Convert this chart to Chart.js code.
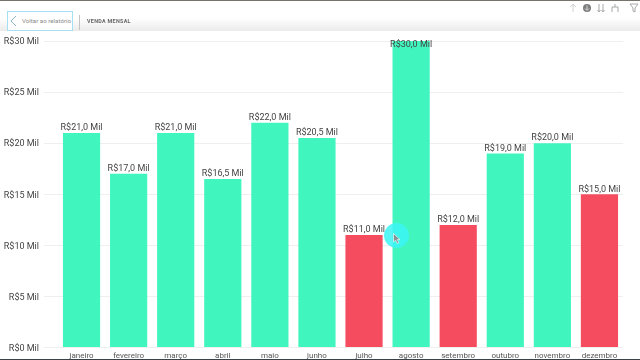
<!DOCTYPE html>
<html>
<head>
<meta charset="utf-8">
<script src="https://cdn.jsdelivr.net/npm/chart.js@4/dist/chart.umd.min.js"></script>
<style>
html, body { margin: 0; padding: 0; background: #fff; overflow: hidden; }
#wrap { position: relative; width: 640px; height: 360px; overflow: hidden; font-family: Roboto, sans-serif; }
#chartVendas { position: absolute; left: 0; top: 0; filter: blur(0.35px); }
.topline { position: absolute; left: 0; top: 0; width: 640px; height: 1px; background: #77736f; }
.botline { position: absolute; left: 0; top: 358.5px; width: 640px; height: 1.5px; background: #3c4148; }
.shade { position: absolute; left: 0; top: 18px; width: 640px; height: 13px; background: linear-gradient(#fff, #ebebeb); }
.voltar { position: absolute; left: 7px; top: 11px; width: 64px; height: 18px; border: 1px solid #a5e0f2; font-size: 6.2px; color: #8b8b8b; line-height: 19px; text-indent: 14px; white-space: nowrap; background: #fff; }
.sep { position: absolute; left: 79px; top: 15px; width: 1px; height: 15px; background: #c4c4c4; }
.titulo { position: absolute; left: 87px; top: 16px; font-size: 5.4px; line-height: 10px; font-weight: 700; letter-spacing: 0.3px; color: #666; }
.ic { position: absolute; top: 2px; }
.cursorDot { position: absolute; left: 384px; top: 223px; width: 25px; height: 25px; border-radius: 50%; background: rgba(60, 245, 245, 0.85); }
.seta { position: absolute; left: 393px; top: 233px; }
</style>
</head>
<body>
<div id="wrap">
  <canvas id="chartVendas" width="640" height="360"></canvas>
  <div class="shade"></div>
  <div class="topline"></div>
  <div class="voltar">Voltar ao relatório</div>
  <svg class="ic" style="left:8px;top:13px" width="12" height="16"><path d="M8 3 L3 8 L8 13" fill="none" stroke="#8fb4c4" stroke-width="1"/></svg>
  <div class="sep"></div>
  <div class="titulo">VENDA MENSAL</div>
  <svg class="ic" style="left:568px" width="71" height="12">
    <g fill="none" stroke="#d2d2d2" stroke-width="1"><path d="M5 10V2M2 5L5 2L8 5"/></g>
    <circle cx="19" cy="6" r="4" fill="#7d7d7d"/><path d="M19 3.5V8M17 6.5L19 8.5L21 6.5" stroke="#eee" stroke-width="0.8" fill="none"/>
    <g fill="none" stroke="#a8a8a8" stroke-width="1"><path d="M31 2V10M29.5 8L31 10L32.5 8M35 2V10M33.5 8L35 10L36.5 8"/>
    <path d="M47 2V5M44 10V5H50V10"/><path d="M62 2H70L67 6V10L65 9V6Z"/></g>
  </svg>
  <div class="cursorDot"></div>
  <svg class="seta" width="8" height="12"><path d="M0.5 0.5V9L2.6 7.2L4.2 10.5L5.8 9.8L4.3 6.6H7Z" fill="#8a8f96" stroke="#fff" stroke-width="0.6"/></svg>
  <div class="botline"></div>
</div>
<script>
const meses = ['janeiro', 'fevereiro', 'março', 'abril', 'maio', 'junho', 'julho', 'agosto', 'setembro', 'outubro', 'novembro', 'dezembro'];
const vendas = [21, 17, 21, 16.5, 22, 20.5, 11, 30, 12, 19, 20, 15];
const corBarra = ['#41f5bf', '#41f5bf', '#41f5bf', '#41f5bf', '#41f5bf', '#41f5bf', '#f64c60', '#41f5bf', '#f64c60', '#41f5bf', '#41f5bf', '#f64c60'];
const ticksY = [0, 5, 10, 15, 20, 25, 30];

// rotulo em cima de cada barra
const rotulos = {
    id: 'rotulos',
    afterDatasetsDraw(chart) {
        const ctx = chart.ctx;
        const barras = chart.getDatasetMeta(0).data;
        ctx.save();
        ctx.font = '9px Roboto, sans-serif';
        ctx.fillStyle = '#444';
        ctx.textAlign = 'center';
        ctx.textBaseline = 'middle';
        barras.forEach(function (b, i) {
            let y = b.y - 5;
            if (y < chart.chartArea.top) y = b.y + 4;
            ctx.fillText('R$' + vendas[i].toFixed(1).replace('.', ',') + ' Mil', b.x, y);
        });
        ctx.restore();
    }
};

var ctxVendas = document.getElementById('chartVendas').getContext('2d');
var chartVendas = new Chart(ctxVendas, {
    type: 'bar',
    data: {
        labels: meses,
        datasets: [{ data: vendas, backgroundColor: corBarra, categoryPercentage: 1, barPercentage: 0.79 }]
    },
    plugins: [rotulos],
    options: {
        responsive: false,
        animation: false,
        layout: { padding: { left: 0, right: 17, top: 41, bottom: 0 } },
        plugins: { legend: { display: false }, tooltip: { enabled: false } },
        scales: {
            x: {
                grid: { display: false, drawTicks: false },
                border: { display: false },
                afterFit(scale) { scale.height = 12.5; },
                ticks: { color: '#555', font: { size: 8, family: 'Roboto, sans-serif' }, padding: 4, maxRotation: 0, autoSkip: false }
            },
            y: {
                min: 0,
                max: 30,
                afterFit(scale) { scale.width = 58; },
                afterBuildTicks(scale) { scale.ticks = ticksY.map(function (v) { return { value: v }; }); },
                grid: { color: '#efefef', lineWidth: 1, tickLength: 14, tickColor: '#efefef' },
                border: { display: false },
                ticks: {
                    color: '#444',
                    padding: 5,
                    labelOffset: 1,
                    font: { size: 9, family: 'Roboto, sans-serif' },
                    callback(v) { return 'R$' + v + ' Mil'; }
                }
            }
        }
    }
});
</script>
</body>
</html>
